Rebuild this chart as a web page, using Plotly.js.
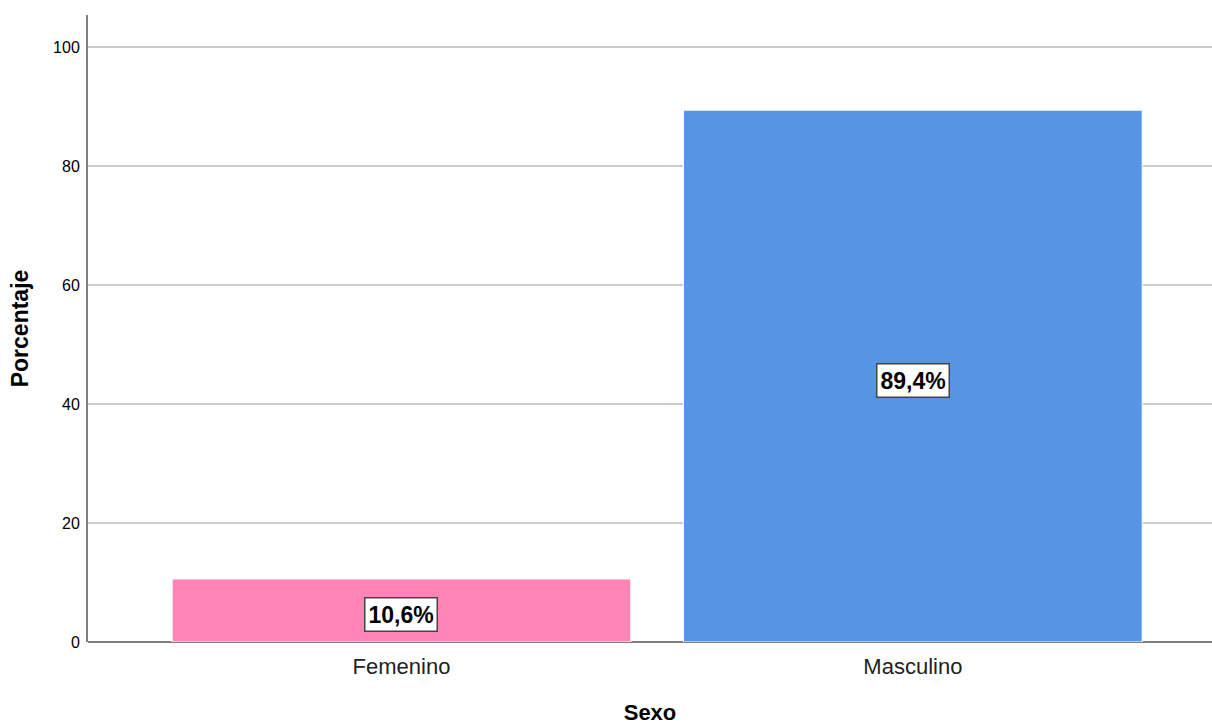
<!DOCTYPE html>
<html><head><meta charset="utf-8">
<script src="https://cdn.plot.ly/plotly-3.0.1.min.js"></script>
<style>html,body{margin:0;padding:0;background:#fff}#c{width:1212px;height:725px}</style>
</head><body><div id="c"></div>
<script>
const categories = ["Femenino", "Masculino"];
const percentages = [10.6, 89.4];
const barColors = ["#FF85B6", "#5595E3"];
const labels = ["10,6%", "89,4%"];
const yTicks = [0, 20, 40, 60, 80, 100];

const trace = {
  type: 'bar', x: categories, y: percentages,
  marker: {color: barColors, line: {color: '#ffffff', width: 1}},
  width: 0.897, hoverinfo: 'none'
};
const annotations = categories.map((c, i) => ({
  x: c, y: percentages[i] / 2, xref: 'x', yref: 'y', text: '<b>' + labels[i] + '</b>',
  showarrow: false, bgcolor: '#ffffff', bordercolor: '#444444', borderwidth: 1.5, borderpad: 3,
  yshift: -4,
  font: {family: 'Liberation Sans, Arial, sans-serif', size: 23, color: '#000'}
}));
const layout = {
  width: 1212, height: 725,
  margin: {l: 88, r: 0, t: 15, b: 83},
  paper_bgcolor: '#fff', plot_bgcolor: '#fff',
  font: {family: 'Liberation Sans, Arial, sans-serif', color: '#000'},
  showlegend: false,
  xaxis: {
    range: [-0.613, 1.585], showgrid: false, zeroline: false,
    showline: false, ticks: '', ticklabelstandoff: 9,
    tickfont: {size: 22, color: '#222'},
    title: {text: '<b>Sexo</b>', font: {size: 22, color: '#000'}, standoff: 26}
  },
  yaxis: {
    range: [0, 105.4], tickvals: yTicks, ticktext: yTicks.map(String),
    showgrid: true, gridcolor: '#cccccc', gridwidth: 2,
    zeroline: true, zerolinecolor: '#808080', zerolinewidth: 2,
    showline: true, linecolor: '#808080', linewidth: 2,
    ticks: '', ticklen: 0, ticklabelstandoff: 3, tickfont: {size: 16, color: '#000'},
    title: {text: '<b>Porcentaje</b>', font: {size: 23, color: '#000'}, standoff: 18}
  },
  annotations: annotations,
  bargap: 0.1
};
Plotly.newPlot('c', [trace], layout, {displayModeBar: false, staticPlot: true});
</script></body></html>
